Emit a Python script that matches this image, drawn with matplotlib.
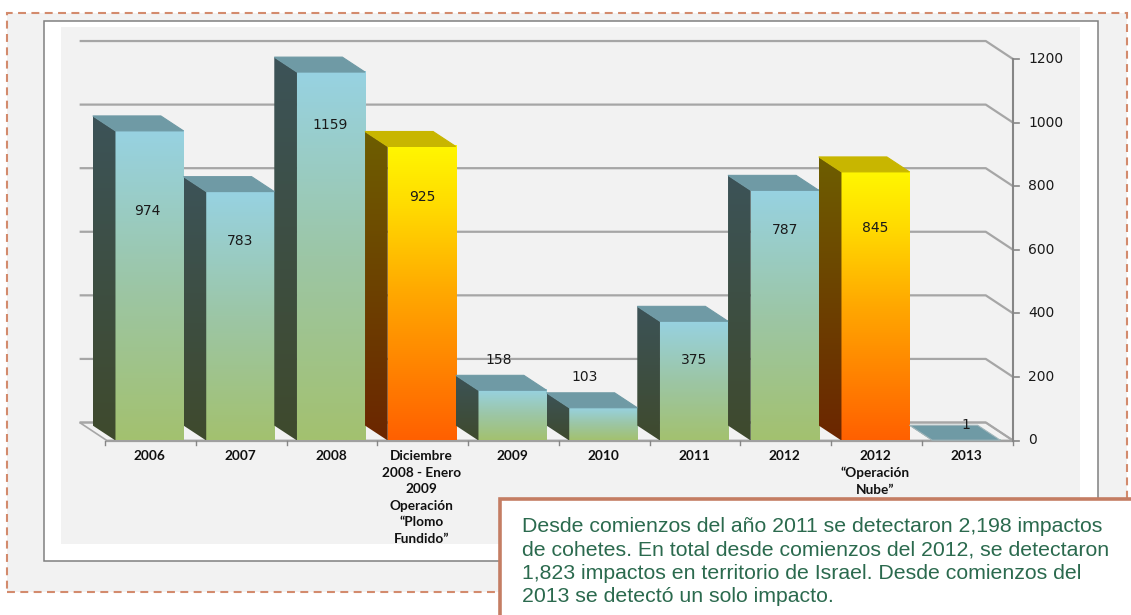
import numpy as np
import matplotlib.pyplot as plt
from matplotlib.patches import Rectangle, Polygon
from matplotlib.colors import LinearSegmentedColormap

# data
categories = ["2006", "2007", "2008",
              "Diciembre\n2008 - Enero\n2009\nOperación\n“Plomo\nFundido”",
              "2009", "2010", "2011", "2012",
              "2012\n“Operación\nNube”", "2013"]
impacts = [974, 783, 1159, 925, 158, 103, 375, 787, 845, 1]
is_operation = [False, False, False, True, False, False, False, False, True, False]
y_ticks = [0, 200, 400, 600, 800, 1000, 1200]
note_lines = [
    "Desde comienzos del año 2011 se detectaron 2,198 impactos",
    "de cohetes. En total desde comienzos del 2012, se detectaron",
    "1,823 impactos en territorio de Israel. Desde comienzos del",
    "2013 se detectó un solo impacto.",
]

# where Excel put the value labels (offset from bar centre, height in value units)
label_dx = [-0.02, 0, -0.01, 0.01, -0.15, -0.21, 0, 0, 0, 0]
label_y = [722, 628, 993, 765, 253, 200, 253, 662, 668, 49]

W, H = 1131, 615
fig = plt.figure(figsize=(W / 100, H / 100), dpi=100)


def fx(x):
    return x / W


def fy(y):
    return 1 - y / H


# outer dashed frame and white chart frame
fig.add_artist(Rectangle((fx(7), fy(592)), fx(1127 - 7), (592 - 13) / H,
                         transform=fig.transFigure, facecolor="#f2f2f2",
                         edgecolor="#d38b6d", lw=1.5, linestyle=(0, (3.8, 2.6)),
                         zorder=-3))
fig.add_artist(Rectangle((fx(44), fy(561)), fx(1098 - 44), (561 - 21) / H,
                         transform=fig.transFigure, facecolor="white",
                         edgecolor="#808080", lw=1.1, zorder=-2))

ax = fig.add_axes([fx(61), fy(544), fx(1080 - 61), (544 - 27) / H])
ax.set_facecolor("#f2f2f2")
for s in ax.spines.values():
    s.set_visible(False)
ax.set_xticks([])
ax.set_yticks([])

# depth offsets of the fake 3d
GDX, GDY = -0.3, 56.6      # back wall
BDX, BDY = -0.25, 47.0     # bars
front_l, front_r = -0.47, 9.515
bar_w = 0.75

# floor
floor = [(front_l, 0), (front_r, 0), (front_r + GDX, GDY), (front_l + GDX, GDY)]
ax.add_patch(Polygon(floor, closed=True, facecolor="#f2f2f2",
                     edgecolor="#a6a6a6", lw=1.2, zorder=1))
ax.plot([front_l, front_r], [-3, -3], color="#a0a0a0", lw=1.6, zorder=1)

# back wall gridlines
for v in y_ticks:
    ax.plot([front_l + GDX, front_r + GDX, front_r], [v + GDY, v + GDY, v],
            color="#a6a6a6", lw=1.6, zorder=1, solid_capstyle="butt")

# right axis
ax.plot([front_r, front_r], [0, 1200], color="#868686", lw=1.5, zorder=2)
for v in y_ticks:
    ax.plot([front_r, front_r + 0.07], [v, v], color="#868686", lw=1.2, zorder=2)
    ax.text(front_r + 0.17, v, str(v), ha="left", va="center",
            fontsize=10, color="#1a1a1a")

# x ticks
for k in range(len(categories) + 1):
    xb = k - 0.49
    ax.plot([xb, xb], [-3, -14], color="#868686", lw=1.0, zorder=2)

cmaps = {
    False: (LinearSegmentedColormap.from_list("bf", ["#a3c16f", "#9cc6a6", "#97d2e2"]),
            LinearSegmentedColormap.from_list("bs", ["#3f4a2d", "#3c5358"]),
            "#6f9aa5"),
    True: (LinearSegmentedColormap.from_list("yf", [(0, "#ff6000"), (0.5, "#ffa800"),
                                                    (0.8, "#ffdc00"), (1, "#fff700")]),
           LinearSegmentedColormap.from_list("ys", ["#6b2600", "#6e5e00"]),
           "#c8b600"),
}
grad = np.linspace(0, 1, 256).reshape(-1, 1)

for i, (v, op) in enumerate(zip(impacts, is_operation)):
    cf, cs, ctop = cmaps[op]
    x0, x1 = i - bar_w / 2, i + bar_w / 2
    # front face
    ax.imshow(grad, extent=[x0, x1, 0, v], origin="lower", aspect="auto",
              cmap=cf, zorder=3, interpolation="bilinear")
    # left side face
    side = [(x0 + BDX, BDY), (x0, 0), (x0, v), (x0 + BDX, v + BDY)]
    im = ax.imshow(grad, extent=[x0 + BDX, x0, 0, v + BDY], origin="lower",
                   aspect="auto", cmap=cs, zorder=3, interpolation="bilinear")
    im.set_clip_path(Polygon(side, closed=True, transform=ax.transData))
    # top face
    top = [(x0, v), (x1, v), (x1 + BDX, v + BDY), (x0 + BDX, v + BDY)]
    ax.add_patch(Polygon(top, closed=True, facecolor=ctop,
                         edgecolor="#9fb4b9" if v < 5 else ctop, lw=0.8, zorder=4))
    ax.text(i + label_dx[i], label_y[i], str(v), ha="center", va="center",
            fontsize=10, color="#1a1a1a", zorder=6)
    ax.text(i, -30, categories[i], ha="center", va="top", fontsize=9.8,
            fontweight="bold", family="Lato", color="#111111",
            linespacing=1.45, zorder=6)

ax.set_xlim((61 - 149.5) / 90.75, (1080 - 149.5) / 90.75)
ax.set_ylim((440.5 - 544) / 0.3179, (440.5 - 27) / 0.3179)

# note box
fig.add_artist(Rectangle((fx(500), fy(640)), fx(1160 - 500), (640 - 499) / H,
                         transform=fig.transFigure, facecolor="white",
                         edgecolor="#c47d63", lw=2.6, zorder=5))
for k, line in enumerate(note_lines):
    fig.text(fx(522), fy(532 + 23.5 * k), line, ha="left", va="baseline",
             fontsize=15.3, family="Liberation Sans", color="#2b6a4e", zorder=6)

fig.savefig("out.png", dpi=100)
